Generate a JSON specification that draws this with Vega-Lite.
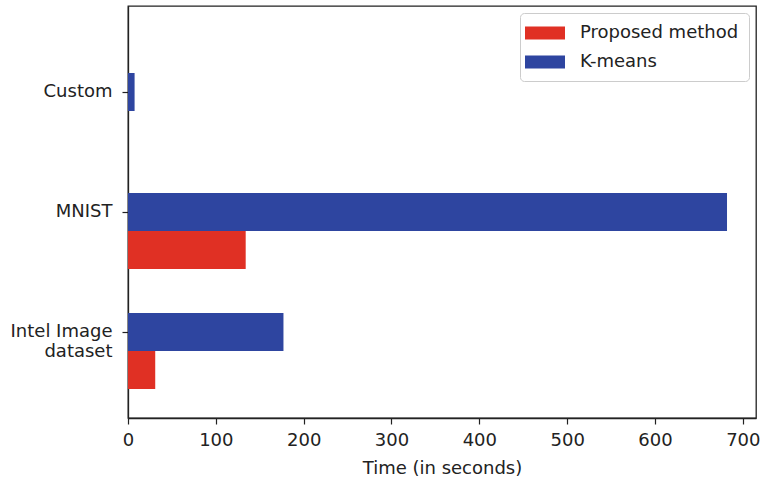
{
  "$schema": "https://vega.github.io/schema/vega-lite/v6.json",
  "width": 628,
  "height": 412,
  "autosize": {"type": "none"},
  "padding": {"left": 128, "top": 6, "right": 7, "bottom": 62},
  "background": "white",
  "config": {
    "font": "DejaVu Sans",
    "view": {"stroke": "#222", "strokeWidth": 1.3},
    "axis": {
      "domainColor": "#222",
      "domainWidth": 1.3,
      "tickColor": "#222",
      "tickWidth": 1.2,
      "tickSize": 6,
      "labelColor": "#222",
      "titleColor": "#222",
      "labelFont": "DejaVu Sans",
      "titleFont": "DejaVu Sans",
      "labelFontSize": 18,
      "titleFontSize": 18,
      "titleFontWeight": "normal",
      "grid": false
    }
  },
  "data": {
    "values": [
      {"dataset": "Custom", "method": "K-means", "time": 7.5},
      {"dataset": "Custom", "method": "Proposed method", "time": 0},
      {"dataset": "MNIST", "method": "K-means", "time": 682},
      {"dataset": "MNIST", "method": "Proposed method", "time": 134},
      {"dataset": "Intel Image dataset", "method": "K-means", "time": 177},
      {"dataset": "Intel Image dataset", "method": "Proposed method", "time": 31}
    ]
  },
  "mark": {"type": "bar"},
  "encoding": {
    "x": {
      "field": "time",
      "type": "quantitative",
      "stack": null,
      "scale": {"domain": [0, 715], "nice": false, "zero": true},
      "axis": {"values": [0, 100, 200, 300, 400, 500, 600, 700], "title": "Time (in seconds)", "labelPadding": 7, "titlePadding": 10, "labelFlush": false}
    },
    "y": {
      "field": "dataset",
      "type": "nominal",
      "sort": ["Custom", "MNIST", "Intel Image dataset"],
      "scale": {"paddingInner": 0.3667, "paddingOuter": 0.4, "align": 0.698},
      "axis": {
        "title": null,
        "bandPosition": 0.25,
        "labelOffset": -19,
        "labelPadding": 10,
        "labelExpr": "datum.value == 'Intel Image dataset' ? ['Intel Image', 'dataset'] : datum.value",
        "labelLineHeight": 20
      }
    },
    "yOffset": {
      "field": "method",
      "type": "nominal",
      "sort": ["K-means", "Proposed method"],
      "scale": {"paddingInner": 0, "paddingOuter": 0}
    },
    "color": {
      "field": "method",
      "type": "nominal",
      "sort": ["Proposed method", "K-means"],
      "scale": {"domain": ["Proposed method", "K-means"], "range": ["#E03024", "#2E45A0"]},
      "legend": {
        "title": null,
        "orient": "top-right",
        "offset": 7,
        "symbolType": "M-2,-0.65H2V0.65H-2Z",
        "symbolSize": 400,
        "symbolStrokeWidth": 0,
        "symbolOffset": 5,
        "labelOffset": 25,
        "labelFontSize": 18,
        "labelFont": "DejaVu Sans",
        "labelColor": "#222",
        "rowPadding": 10,
        "padding": 10,
        "strokeColor": "#cccccc",
        "fillColor": "white",
        "cornerRadius": 4
      }
    }
  }
}
